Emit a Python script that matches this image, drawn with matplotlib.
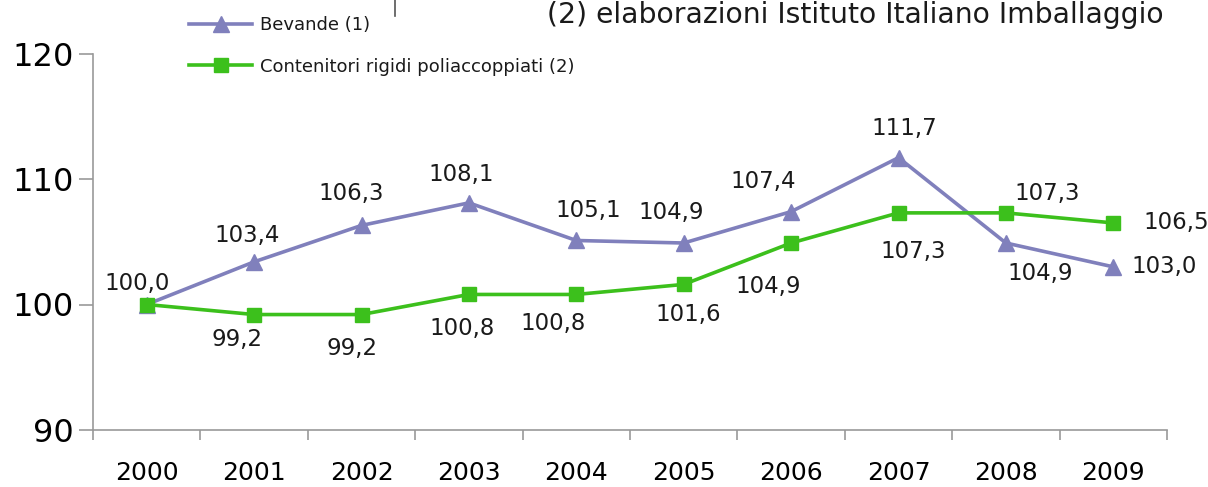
import matplotlib
matplotlib.use('Agg')
import matplotlib.pyplot as plt
from matplotlib.lines import Line2D

anni = ['2000', '2001', '2002', '2003', '2004', '2005', '2006', '2007', '2008', '2009']
bevande = [100.0, 103.4, 106.3, 108.1, 105.1, 104.9, 107.4, 111.7, 104.9, 103.0]
contenitori = [100.0, 99.2, 99.2, 100.8, 100.8, 101.6, 104.9, 107.3, 107.3, 106.5]

# spostamento delle etichette rispetto al punto (pixel), None = nessuna etichetta
off_bev = [(-10, 21), (-7, 26), (-10, 32), (-8, 28), (12, 30), (-13, 31), (-28, 30), (6, 29), (34, -30), ('r', 18)]
off_cont = [None, (-17, -25), (-9, -34), (-7, -34), (-23, -29), (5, -30), (-23, -43), (15, -39), (41, 19), ('r', 30)]

col_bev = '#8080bc'
col_cont = '#3cc01c'

W, H = 1208, 487
fig = plt.figure(figsize=(W / 100, H / 100), dpi=100)
ax = fig.add_axes([93 / W, 1 - 430 / H, (1167 - 93) / W, (430 - 53.5) / H])

x = range(len(anni))
ax.plot(x, bevande, color=col_bev, lw=2.6, marker='^', ms=11.5, label='Bevande (1)', zorder=3)
ax.plot(x, contenitori, color=col_cont, lw=2.6, marker='s', ms=9.5, label='Contenitori rigidi poliaccoppiati (2)', zorder=3)

def etichette(valori, offset):
    for i, (v, o) in enumerate(zip(valori, offset)):
        if o is None:
            continue
        testo = f'{v:.1f}'.replace('.', ',')
        if o[0] == 'r':
            ax.annotate(testo, (i, v), xytext=(o[1], 0), textcoords='offset pixels',
                        ha='left', va='center', fontsize=16.5, color='#1a1a1a')
        else:
            ax.annotate(testo, (i, v), xytext=o, textcoords='offset pixels',
                        ha='center', va='center', fontsize=16.5, color='#1a1a1a')

etichette(bevande, off_bev)
etichette(contenitori, off_cont)

ax.set_xlim(-0.5, len(anni) - 0.5)
ax.set_ylim(90, 120)
ax.set_yticks([90, 100, 110, 120])
ax.set_xticks(x)
ax.set_xticklabels(anni, fontsize=18)
ax.set_xticks([i - 0.5 for i in range(len(anni) + 1)], minor=True)
ax.tick_params(axis='x', which='major', length=0, pad=22)
ax.tick_params(axis='x', which='minor', length=7, width=1.2, color='#999999', direction='out')
ax.tick_params(axis='y', labelsize=23, length=10, width=1.2, color='#999999', pad=4)

for s in ['top', 'right']:
    ax.spines[s].set_visible(False)
for s in ['left', 'bottom']:
    ax.spines[s].set_color('#999999')
    ax.spines[s].set_linewidth(1.2)

leg = ax.legend(loc='upper left', bbox_to_anchor=(182 / W, 1 - 9 / H), bbox_transform=fig.transFigure,
                frameon=False, fontsize=13, handlelength=3.5, labelspacing=1.3, handletextpad=0.4,
                borderaxespad=0)
for t in leg.get_texts():
    t.set_color('#1a1a1a')

# testo tagliato in alto
fig.text(547 / W, 1 - 23 / H, '(2) elaborazioni Istituto Italiano Imballaggio',
         fontsize=20.3, ha='left', va='baseline', color='#1a1a1a')
fig.add_artist(Line2D([395 / W, 395 / W], [1, 1 - 16 / H], transform=fig.transFigure,
                      color='#555555', lw=1.2))

fig.savefig('out.png', dpi=100)
